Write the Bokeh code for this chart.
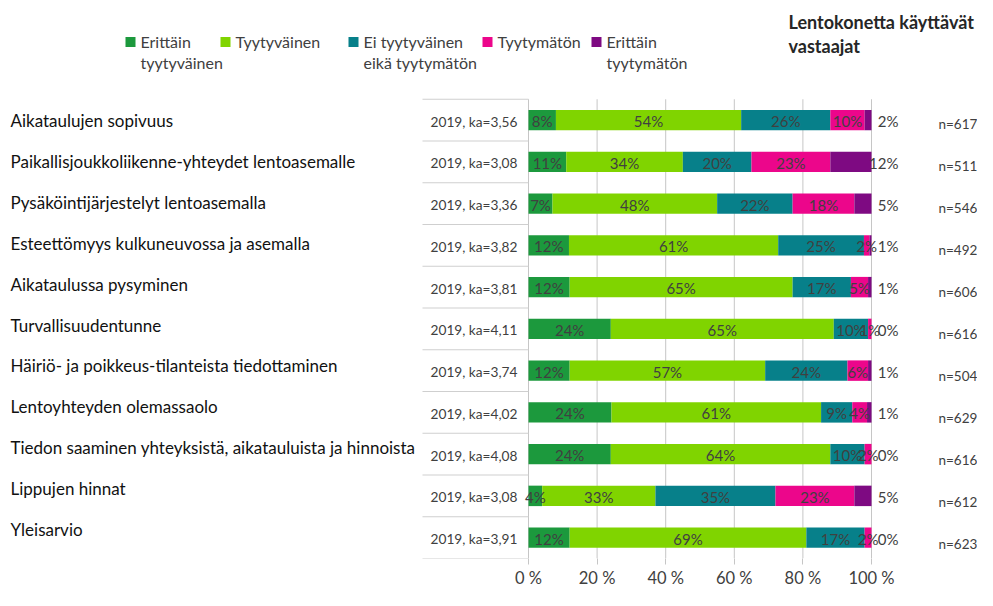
from bokeh.plotting import figure
from bokeh.models import Range1d, FixedTicker, ColumnDataSource
from bokeh.embed import file_html
from bokeh.resources import INLINE
from bokeh.core.properties import value

# ---------------- data ----------------
categories = [
    "Aikataulujen sopivuus",
    "Paikallisjoukkoliikenne-yhteydet lentoasemalle",
    "Pysäköintijärjestelyt lentoasemalla",
    "Esteettömyys kulkuneuvossa ja asemalla",
    "Aikataulussa pysyminen",
    "Turvallisuudentunne",
    "Häiriö- ja poikkeus-tilanteista tiedottaminen",
    "Lentoyhteyden olemassaolo",
    "Tiedon saaminen yhteyksistä, aikatauluista ja hinnoista",
    "Lippujen hinnat",
    "Yleisarvio",
]
ka_labels = [
    "2019, ka=3,56", "2019, ka=3,08", "2019, ka=3,36", "2019, ka=3,82",
    "2019, ka=3,81", "2019, ka=4,11", "2019, ka=3,74", "2019, ka=4,02",
    "2019, ka=4,08", "2019, ka=3,08", "2019, ka=3,91",
]
n_labels = ["n=617", "n=511", "n=546", "n=492", "n=606", "n=616",
            "n=504", "n=629", "n=616", "n=612", "n=623"]

erittain_tyytyvainen = [8, 11, 7, 11.8, 12, 24, 12, 24.2, 24, 4, 12]
tyytyvainen = [54, 34, 48, 61.0, 65, 65, 57, 61.1, 64, 33, 69]
ei_kumpikaan = [26, 20, 22, 25.0, 17, 10, 24, 9.1, 10, 35, 17]
tyytymaton = [10, 23, 18, 1.6, 5, 1, 6, 4.3, 2, 23, 2]
erittain_tyytymaton = [2, 12, 5, 0.6, 1, 0, 1, 1.3, 0, 5, 0]

series_names = ["Erittäin\ntyytyväinen", "Tyytyväinen", "Ei tyytyväinen\neikä tyytymätön",
                "Tyytymätön", "Erittäin\ntyytymätön"]
series_keys = ["s1", "s2", "s3", "s4", "s5"]
colors = ["#1C993D", "#80D400", "#07808A", "#EC068B", "#7E0A82"]

tick_values = [0, 20, 40, 60, 80, 100]
tick_labels = ["0 %", "20 %", "40 %", "60 %", "80 %", "100 %"]

title_lines = ["Lentokonetta käyttävät", "vastaajat"]

# ---------------- layout (pixels) ----------------
W, H = 977, 590
X0_PX, X100_PX = 528, 871
ROWS_TOP_PX, ROWS_BOT_PX = 100, 565
n = len(categories)
ppu = (X100_PX - X0_PX) / 100.0
row_h = (ROWS_BOT_PX - ROWS_TOP_PX) / n
k_y = row_h / 43.03          # vertical compression relative to the reference
x_start = -X0_PX / ppu
x_end = (W - X0_PX) / ppu
y_top = -0.5 - ROWS_TOP_PX / row_h
y_bottom = n - 0.5


def xd(px):
    return (px - X0_PX) / ppu


def yd(py):
    return (py - ROWS_TOP_PX) / row_h - 0.5


def yc(py):
    # reference pixel below the rows top, compressed like the rows
    return yd(ROWS_TOP_PX + (py - ROWS_TOP_PX) * k_y)


FONT = value("Lato")

p = figure(width=W, height=H, x_range=Range1d(x_start, x_end),
           y_range=Range1d(y_bottom, y_top), output_backend="svg",
           toolbar_location=None, y_axis_location=None,
           min_border_left=0, min_border_right=0, min_border_top=0,
           min_border_bottom=H - ROWS_BOT_PX)
p.outline_line_color = None
p.grid.visible = False
p.background_fill_color = "white"
p.border_fill_color = "white"

rows = list(range(n))

# grid lines at tick values
p.segment(x0=tick_values, x1=tick_values, y0=[-0.5] * len(tick_values),
          y1=[y_bottom] * len(tick_values), line_color="#c6c6c6", line_width=1)
# label column separators
bounds = [i - 0.5 for i in range(n + 1)]
p.segment(x0=[xd(422)] * len(bounds), x1=[0] * len(bounds), y0=bounds, y1=bounds,
          line_color="#cfcfcf", line_width=1)

# stacked bars
src = ColumnDataSource(dict(y=rows, s1=erittain_tyytyvainen, s2=tyytyvainen,
                            s3=ei_kumpikaan, s4=tyytymaton, s5=erittain_tyytymaton))
p.hbar_stack(series_keys, y="y", height=0.49, color=colors, source=src, line_color=None)

# segment labels
series = [erittain_tyytyvainen, tyytyvainen, ei_kumpikaan, tyytymaton, erittain_tyytymaton]
lx, ly, lt = [], [], []
for i in range(n):
    left = 0.0
    for j in range(4):
        v = series[j][i]
        lx.append(left + v / 2.0)
        ly.append(i + 1.0 / row_h)
        lt.append(f"{v:.0f}%")
        left += v
p.text(x=lx, y=ly, text=lt, text_align="center", text_baseline="middle",
       text_font=FONT, text_font_size="15px", text_color="#404040")
# last segment labels outside
p.text(x=[xd(898)] * n, y=[i + 1.0 / row_h for i in rows],
       text=[f"{v:.0f}%" for v in erittain_tyytymaton],
       text_align="right", text_baseline="middle", text_font=FONT,
       text_font_size="15px", text_color="#404040")

# category labels
CAT_TOP_PX, CAT_STEP = 122.3, 42.1
p.text(x=[xd(10)] * n, y=[yc(CAT_TOP_PX + CAT_STEP * i) for i in rows], text=categories,
       text_align="left", text_baseline="middle", text_font=FONT,
       text_font_size="17px", text_color="#111111")
# ka labels
p.text(x=[xd(430)] * n, y=[i + 1.0 / row_h for i in rows], text=ka_labels,
       text_align="left", text_baseline="middle", text_font=FONT,
       text_font_size="13.7px", text_color="#404040")
# n labels
N_TOP_PX, N_STEP = 125.7, 43.3
p.text(x=[xd(938)] * n, y=[yc(N_TOP_PX + N_STEP * i) for i in rows], text=n_labels,
       text_align="left", text_baseline="middle", text_font=FONT,
       text_font_size="13.5px", text_color="#404040")

# legend
LEG_MARK_PX = [130, 225, 353, 487, 596]
LEG_Y_PX, LEG_LINE = 42, 21
p.scatter(x=[xd(v) for v in LEG_MARK_PX], y=[yd(LEG_Y_PX)] * 5, marker="square",
          size=10, color=colors, line_color=None)
tx, ty, tt = [], [], []
for k, name in enumerate(series_names):
    for li, line in enumerate(name.split("\n")):
        tx.append(xd(LEG_MARK_PX[k] + 10))
        ty.append(yd(LEG_Y_PX + LEG_LINE * li))
        tt.append(line)
p.text(x=tx, y=ty, text=tt, text_align="left", text_baseline="middle",
       text_font=FONT, text_font_size="16px", text_color="#404040")

# right title
p.text(x=[xd(788)] * 2, y=[yd(22), yd(46)], text=title_lines, text_align="left",
       text_baseline="middle", text_font=FONT, text_font_size="18px",
       text_font_style="bold", text_color="#262626")

# x axis
ax = p.xaxis[0]
ax.ticker = FixedTicker(ticks=tick_values)
ax.major_label_overrides = {v: t for v, t in zip(tick_values, tick_labels)}
ax.axis_line_color = None
ax.major_tick_line_color = "#c6c6c6"
ax.major_tick_in = 0
ax.major_tick_out = 6
ax.minor_tick_line_color = None
ax.major_label_standoff = 3
ax.major_label_text_font = "Lato"
ax.major_label_text_font_size = "16.5px"
ax.major_label_text_color = "#404040"

open("out.html", "w").write(file_html(p, INLINE))
